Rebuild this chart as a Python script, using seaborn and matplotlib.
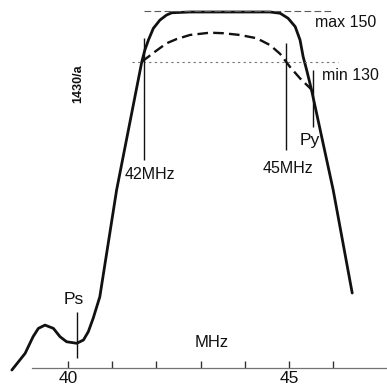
import matplotlib
matplotlib.use("Agg")
import numpy as np
import pandas as pd
import matplotlib.pyplot as plt
import seaborn as sns

# ---- data (frequency in MHz, relative level) ----
solid_x = [38.73, 39.03, 39.21, 39.33, 39.48, 39.67, 39.82, 39.97, 40.20, 40.35,
           40.46, 40.57, 40.72, 41.10, 41.67, 41.74, 41.82, 41.93, 42.08, 42.23,
           42.35, 42.76, 44.57, 44.80, 44.98, 45.14, 45.25, 45.32, 45.40, 45.51,
           46.00, 46.43]
solid_y = [8.2, 14.8, 21.4, 24.7, 26.0, 24.7, 21.4, 19.4, 18.8, 20.1,
           23.4, 28.7, 37.2, 79.5, 130.3, 135.0, 138.9, 143.5, 146.8, 148.8,
           149.7, 150.0, 150.0, 149.5, 147.5, 144.2, 138.9, 132.3, 127.0, 119.1,
           79.5, 38.7]

dash_x = [41.67, 41.97, 42.23, 42.46, 42.76, 43.21, 43.51, 43.89, 44.27, 44.57,
          44.80, 45.02, 45.25, 45.48, 45.51]
dash_y = [130.3, 134.3, 137.6, 139.3, 140.9, 141.8, 141.6, 140.9, 139.6, 136.9,
          133.4, 128.3, 123.7, 119.8, 119.1]

max_level = 150.4
min_level = 130.2
max_span = [41.72, 46.02]
min_span = [41.45, 46.10]

marker_x = [41.71, 44.94, 45.54, 40.20]
marker_top = [139.7, 137.7, 127.0, 31.2]
marker_bottom = [91.4, 95.3, 104.5, 13.0]

tick_pos = [40, 41, 42, 43, 44, 45, 46]
tick_lab = ["40", "", "", "", "", "45", ""]
axis_level = 9.0

sns.set_theme(style="white")
plt.rcParams['font.family'] = ['Liberation Sans', 'DejaVu Sans']

fig = plt.figure(figsize=(3.87, 3.88), dpi=100)
ax = fig.add_axes([0, 0, 1, 1])
ax.set_facecolor("white")

ink = "#111111"

df_s = pd.DataFrame({"f": solid_x, "v": solid_y})
df_d = pd.DataFrame({"f": dash_x, "v": dash_y})
sns.lineplot(data=df_s, x="f", y="v", ax=ax, color=ink, lw=2.0,
             estimator=None, sort=False)
sns.lineplot(data=df_d, x="f", y="v", ax=ax, color=ink, lw=1.7,
             estimator=None, sort=False, linestyle=(0, (4.5, 2.2)))

# reference levels
ax.hlines(max_level, max_span[0], max_span[1], color="0.35", lw=0.8,
          linestyles=(0, (6, 3)))
ax.hlines(min_level, min_span[0], min_span[1], color="0.45", lw=0.8,
          linestyles=(0, (2, 3)))

# marker lines
ax.vlines(marker_x, marker_bottom, marker_top, color=ink, lw=1.0)

# labels
ax.text(41.86, 85.8, "42MHz", ha="center", va="center", fontsize=11.5, color=ink)
ax.text(44.98, 88.2, "45MHz", ha="center", va="center", fontsize=11.5, color=ink)
ax.text(45.48, 99.3, "Py", ha="center", va="center", fontsize=12.5, color=ink)
ax.text(40.12, 36.0, "Ps", ha="center", va="center", fontsize=12.5, color=ink)
ax.text(45.59, 146.0, "max 150", ha="left", va="center", fontsize=11.5, color=ink)
ax.text(45.75, 125.0, "min 130", ha="left", va="center", fontsize=11.5, color=ink)
ax.text(43.24, 19.3, "MHz", ha="center", va="center", fontsize=12, color=ink)
ax.text(40.23, 121.5, "1430/a", ha="center", va="center", fontsize=9,
        fontweight="bold", rotation=90, color=ink)

# axes
ax.set_xlim(38.462, 47.217)
ax.set_ylim(1.09, 154.75)
for s in ["left", "top", "right"]:
    ax.spines[s].set_visible(False)
ax.spines["bottom"].set_position(("data", axis_level))
ax.spines["bottom"].set_bounds(39.19, 47.2)
ax.spines["bottom"].set_color("0.45")
ax.spines["bottom"].set_linewidth(0.9)
ax.set_xticks(tick_pos)
ax.set_xticklabels(tick_lab)
ax.set_yticks([])
ax.tick_params(axis="x", bottom=True, direction="in", length=5, width=1,
               color="0.2", pad=2, labelsize=12.5, labelcolor=ink)
ax.set_xlabel("")
ax.set_ylabel("")

fig.savefig("out.png", dpi=100)
